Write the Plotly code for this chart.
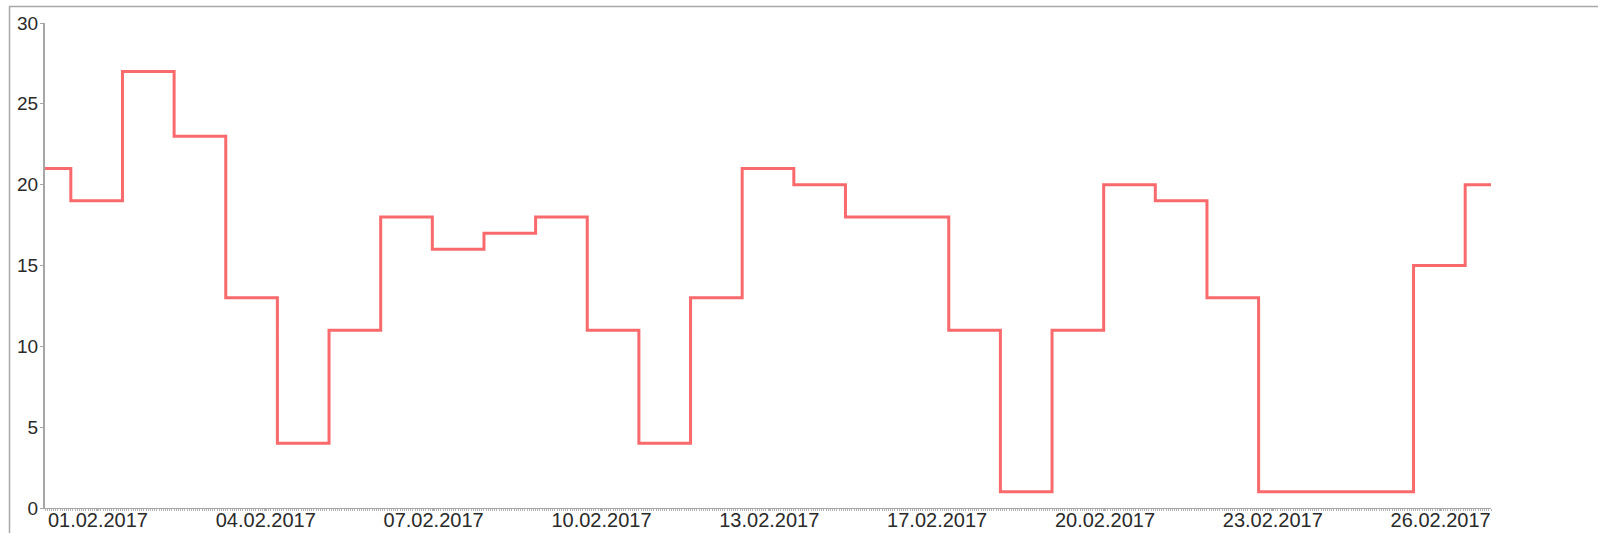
import plotly.graph_objects as go
import pandas as pd

# ---- data ----
dates = pd.date_range("2017-01-31", "2017-02-28", freq="D")
values = [21, 19, 27, 23, 13, 4, 11, 18, 16, 17, 18, 11, 4, 13, 21,
          20, 18, 18, 11, 1, 11, 20, 19, 13, 1, 1, 1, 15, 20]
tick_labels = ["01.02.2017", "04.02.2017", "07.02.2017", "10.02.2017",
               "13.02.2017", "17.02.2017", "20.02.2017", "23.02.2017",
               "26.02.2017"]
y_ticks = [0, 5, 10, 15, 20, 25, 30]

# label positions along the date axis (first label + fixed step)
tick0 = dates[0] + pd.Timedelta(hours=24.6)
step = pd.Timedelta(hours=78)
tick_vals = [tick0 + i * step for i in range(len(tick_labels))]

W, H = 1598, 533
ML, MR, MT, MB = 45, 107, 23, 25
pw, ph = W - ML - MR, H - MT - MB

fig = go.Figure()
fig.add_trace(go.Scatter(
    x=dates, y=values, mode="lines", line_shape="hvh",
    line=dict(color="rgb(248,106,108)", width=3),
    showlegend=False, hoverinfo="skip"))

font = dict(family="Liberation Sans, Arial, sans-serif", size=20, color="#2a2a2a")
yfont = dict(family="Liberation Sans, Arial, sans-serif", size=19, color="#2a2a2a")
axis_grey = "#a6a6a6"

fig.update_layout(
    width=W, height=H,
    margin=dict(l=ML, r=MR, t=MT, b=MB, pad=0, autoexpand=False),
    paper_bgcolor="white", plot_bgcolor="white",
    font=font,
    xaxis=dict(
        type="date", range=[dates[0], dates[-1]],
        tickmode="array", tickvals=tick_vals, ticktext=tick_labels,
        showgrid=False, zeroline=False, automargin=False,
        showline=True, linecolor=axis_grey, linewidth=1,
        ticks="outside", ticklen=2, tickcolor="#b0b0b0", tickwidth=1,
        ticklabelstandoff=-8,
        minor=dict(ticks="outside", dtick=3600000, ticklen=2,
                   tickcolor="#b4b4b4", tickwidth=1, showgrid=False),
        tickfont=font, fixedrange=True,
    ),
    yaxis=dict(
        range=[0, 30], tickmode="array", tickvals=y_ticks,
        showgrid=False, zeroline=False, automargin=False,
        showline=True, linecolor=axis_grey, linewidth=2,
        ticks="outside", ticklen=3, tickcolor=axis_grey, tickwidth=1,
        ticklabelstandoff=-2,
        tickfont=yfont, fixedrange=True,
    ),
)

# outer panel border (top and left visible)
def px_x(p):
    return (p - ML) / pw

def px_y(p):
    return (H - MB - p) / ph

fig.add_shape(type="line", xref="paper", yref="paper",
              x0=px_x(9), x1=px_x(1610), y0=px_y(6.5), y1=px_y(6.5),
              line=dict(color="#a8a8a8", width=1.5))
fig.add_shape(type="line", xref="paper", yref="paper",
              x0=px_x(9.5), x1=px_x(9.5), y0=px_y(6), y1=px_y(545),
              line=dict(color="#a8a8a8", width=1.5))

fig.write_html(
    "out.html",
    config={"displayModeBar": False, "staticPlot": True},
    post_script="document.body.style.margin='0';document.body.style.overflow='hidden';",
)
